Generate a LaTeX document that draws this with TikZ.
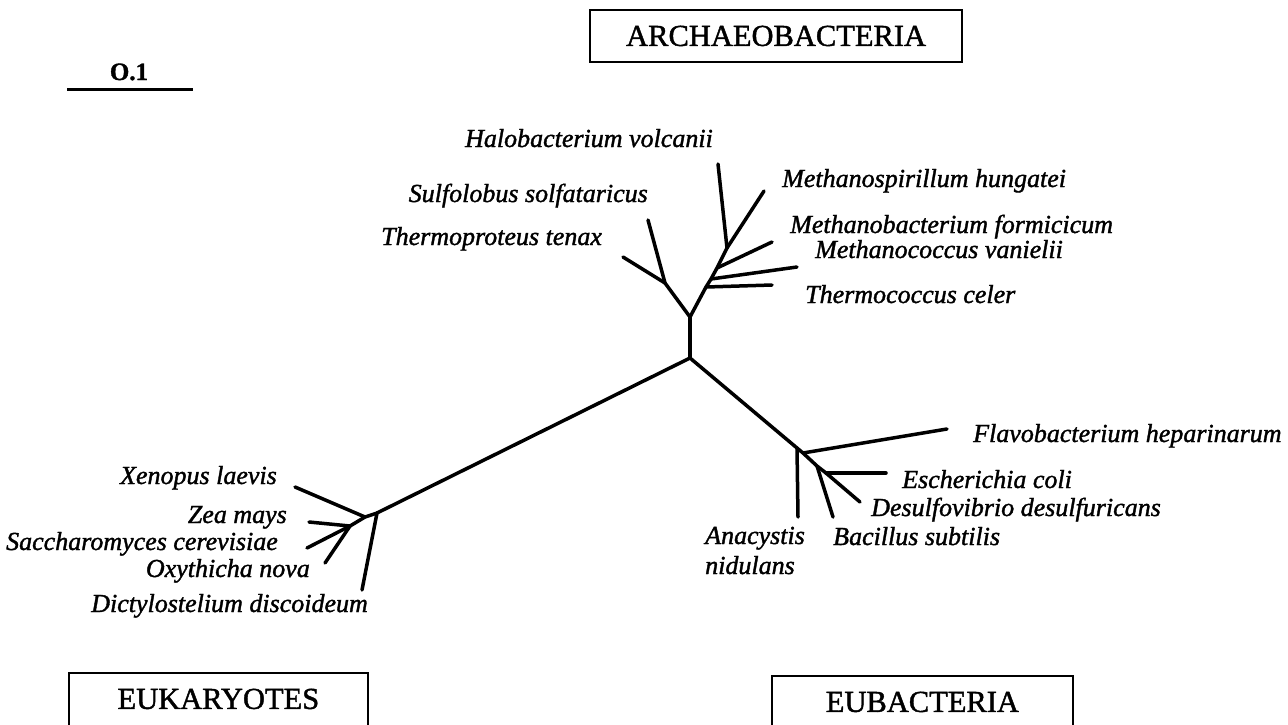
\documentclass[tikz,border=0pt]{standalone}
\usepackage{fontspec}
\setmainfont{Liberation Serif}[FakeBold=1.4]
\usepackage{tikz}
\usetikzlibrary{positioning}

\begin{document}
\begin{tikzpicture}[x=1pt, y=-1pt,
    branch/.style={line width=3.5pt, line cap=round, line join=round},
    taxon/.style={inner sep=0pt, align=left, font=\fontsize{26}{30}\selectfont\itshape},
    group/.style={draw, line width=1.8pt, inner xsep=0pt, inner ysep=16pt, text height=20pt, text depth=0pt, font=\fontsize{30.5}{36}\selectfont}]
    \useasboundingbox (0,0) rectangle (1288,724);

    % group boxes
    \node[group, minimum width=372pt, anchor=north east] (arch) at (963,9) {ARCHAEOBACTERIA};
    \node[group, minimum width=299pt, text depth=40pt, anchor=north west] (euk) at (68,672) {EUKARYOTES};
    \node[group, minimum width=301pt, text depth=40pt, anchor=north west] (eubac) at (771,675) {EUBACTERIA};

    % scale bar
    \coordinate (sb1) at (67,89);
    \coordinate (sb2) at (193,89);
    \draw[line width=3pt] (sb1) -- (sb2);
    \node[anchor=base, inner sep=0pt, font=\fontsize{25}{30}\selectfont\bfseries] (scalelbl) at (129,80) {O.1};

    % inner points of the tree
    \coordinate (root) at (690,358);
    \coordinate (arc) at (690,317);
    \coordinate (cren) at (665,283);
    \coordinate (eury1) at (706,287);
    \coordinate (eury2) at (711,279);
    \coordinate (eury3) at (717,268);
    \coordinate (eury4) at (727,248);
    \coordinate (bac1) at (797,448);
    \coordinate (bac2) at (803,453);
    \coordinate (bac3) at (817,466);
    \coordinate (bac4) at (826,473);
    \coordinate (euk1) at (377,513);
    \coordinate (euk2) at (365,517);
    \coordinate (euk3) at (350,526);

    % leaves
    \coordinate (halo) at (718,164);
    \coordinate (mspi) at (764,191);
    \coordinate (mbac) at (772,242);
    \coordinate (mcoc) at (797,267);
    \coordinate (tcel) at (772,285);
    \coordinate (sulf) at (648,220);
    \coordinate (tten) at (623,257);
    \coordinate (anac) at (798,517);
    \coordinate (flav) at (947,429);
    \coordinate (bsub) at (833,517);
    \coordinate (ecol) at (886,473);
    \coordinate (dsul) at (860,502);
    \coordinate (dict) at (362,590);
    \coordinate (xeno) at (295,487);
    \coordinate (zea) at (309,522);
    \coordinate (scer) at (307,548);
    \coordinate (oxy) at (325,563);

    % branches
    \draw[branch] (euk1) -- (root) -- (bac1);
    \draw[branch] (root) -- (arc);
    \draw[branch] (arc) -- (cren);
    \draw[branch] (cren) -- (sulf);
    \draw[branch] (cren) -- (tten);
    \draw[branch] (arc) -- (eury1) -- (eury2) -- (eury3) -- (eury4);
    \draw[branch] (eury4) -- (halo);
    \draw[branch] (eury4) -- (mspi);
    \draw[branch] (eury3) -- (mbac);
    \draw[branch] (eury2) -- (mcoc);
    \draw[branch] (eury1) -- (tcel);
    \draw[branch] (bac1) -- (bac2) -- (bac3) -- (bac4) -- (dsul);
    \draw[branch] (bac1) -- (anac);
    \draw[branch] (bac2) -- (flav);
    \draw[branch] (bac3) -- (bsub);
    \draw[branch] (bac4) -- (ecol);
    \draw[branch] (euk1) -- (dict);
    \draw[branch] (euk1) -- (euk2) -- (euk3);
    \draw[branch] (euk2) -- (xeno);
    \draw[branch] (euk3) -- (zea);
    \draw[branch] (euk3) -- (scer);
    \draw[branch] (euk3) -- (oxy);

    % taxon labels
    \node[taxon, anchor=base east] (halolbl) at (713,147) {Halobacterium volcanii};
    \node[taxon, anchor=base east] (sulflbl) at (648,202) {Sulfolobus solfataricus};
    \node[taxon, anchor=base west] (ttenlbl) at (381,245) {Thermoproteus tenax};
    \node[taxon, anchor=base west] (mspilbl) at (782,187) {Methanospirillum hungatei};
    \node[taxon, anchor=base west] (mbaclbl) at (790,233) {Methanobacterium formicicum};
    \node[taxon, anchor=base west] (mcoclbl) at (815,258) {Methanococcus vanielii};
    \node[taxon, anchor=base west] (tcellbl) at (805,303) {Thermococcus celer};
    \node[taxon, anchor=base west] (flavlbl) at (973,442) {Flavobacterium heparinarum};
    \node[taxon, anchor=base west] (ecollbl) at (902,488) {Escherichia coli};
    \node[taxon, anchor=base west] (dsullbl) at (871,516) {Desulfovibrio desulfuricans};
    \node[taxon, anchor=base west] (bsublbl) at (833,545) {Bacillus subtilis};
    \node[taxon, anchor=base west] (anaclbl) at (705,574) {Anacystis\\nidulans};
    \node[taxon, anchor=base east] (xenolbl) at (277,484) {Xenopus laevis};
    \node[taxon, anchor=base east] (zealbl) at (287,523) {Zea mays};
    \node[taxon, anchor=base east] (scerlbl) at (278,550) {Saccharomyces cerevisiae};
    \node[taxon, anchor=base east] (oxylbl) at (310,577) {Oxythicha nova};
    \node[taxon, anchor=base east] (dictlbl) at (368,612) {Dictylostelium discoideum};
\end{tikzpicture}
\end{document}
